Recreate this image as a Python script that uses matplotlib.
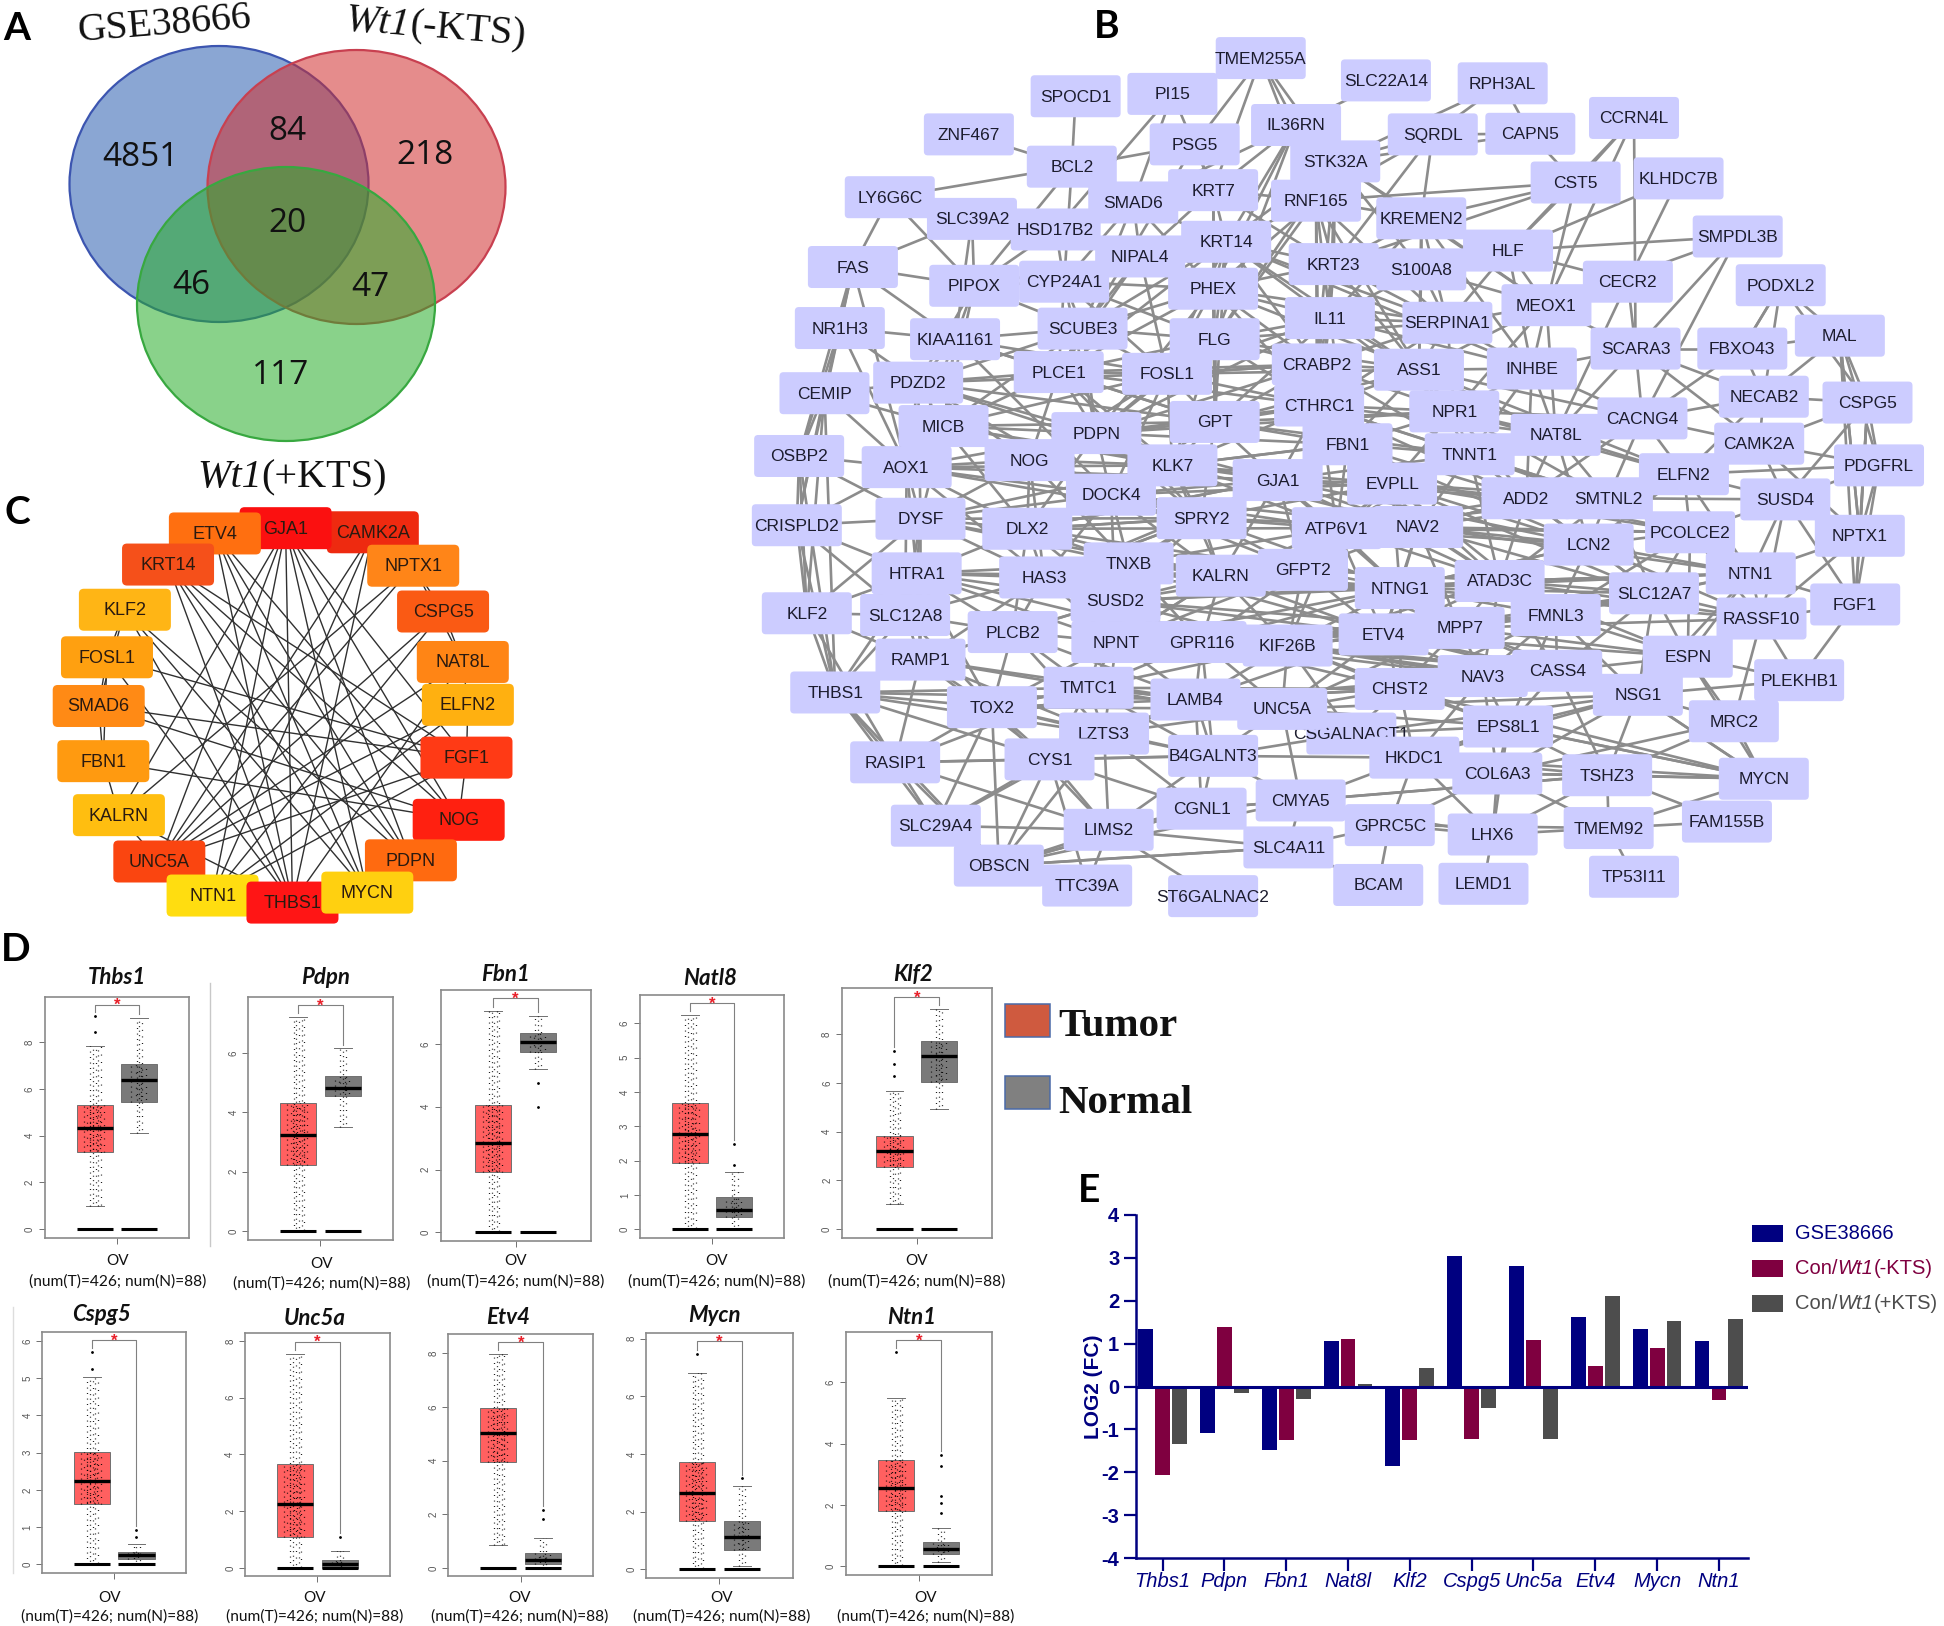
import math
import matplotlib
matplotlib.use("Agg")
import matplotlib.pyplot as plt
from matplotlib.patches import Ellipse, FancyBboxPatch, Rectangle
from matplotlib.transforms import blended_transform_factory

plt.rcParams['font.family'] = ['Liberation Sans', 'DejaVu Sans']

W, H = 1944, 1626

# ---------- Panel A ----------
venn_labels = ["4851", "84", "218", "20", "46", "47", "117"]

# ---------- Panel C ----------
c_names = ["CAMK2A", "GJA1", "ETV4", "KRT14", "NPTX1", "KLF2", "CSPG5", "FOSL1", "NAT8L", "ELFN2",
           "SMAD6", "FBN1", "FGF1", "NOG", "KALRN", "UNC5A", "PDPN", "NTN1", "THBS1", "MYCN"]
c_colors = ["#ee2a10", "#fb1010", "#ff6f10", "#f5501a", "#ff8518", "#ffb515", "#fa5a14", "#ffa010", "#ff8515", "#ffb010",
            "#ff8a15", "#ff9a10", "#ff3a15", "#ff2010", "#ffbe10", "#fa4510", "#ff6a10", "#ffdd10", "#ff1515", "#ffd010"]
c_x = [812, 622, 468, 366, 900, 272, 965, 233, 1008, 1019, 215, 225, 1016, 999, 259, 347, 895, 463, 637, 800]
c_y = [907, 900, 909, 962, 964, 1039, 1042, 1120, 1128, 1201, 1203, 1297, 1291, 1397, 1389, 1468, 1466, 1526, 1538, 1521]
c_edges = [
    "GJA1 THBS1 MYCN PDPN NTN1 UNC5A KALRN NOG FGF1",
    "CAMK2A UNC5A NTN1 THBS1",
    "ETV4 THBS1 MYCN NOG PDPN",
    "KRT14 THBS1 MYCN NOG FGF1 PDPN",
    "NPTX1 UNC5A KALRN CSPG5 NAT8L",
    "CSPG5 UNC5A NTN1 NAT8L",
    "NAT8L UNC5A THBS1 ELFN2",
    "KLF2 MYCN THBS1 FOSL1 SMAD6 PDPN",
    "FOSL1 FGF1 SMAD6 FBN1 THBS1",
    "SMAD6 FGF1 NOG FBN1",
    "FBN1 NOG KALRN",
    "KALRN UNC5A THBS1",
    "ELFN2 FGF1 UNC5A NTN1",
    "FGF1 NOG NTN1 UNC5A",
]

# ---------- Panel B ----------
b_names = ["CSGALNACT1", "TMEM255A", "SLC22A14", "RPH3AL", "SPOCD1", "PI15", "IL36RN", "SQRDL", "CAPN5", "CCRN4L",
           "ZNF467", "PSG5", "STK32A", "BCL2", "KLHDC7B", "CST5", "LY6G6C", "KRT7", "SMAD6", "RNF165",
           "SLC39A2", "KREMEN2", "HSD17B2", "SMPDL3B", "KRT14", "NIPAL4", "HLF", "FAS", "KRT23", "S100A8",
           "CECR2", "PIPOX", "CYP24A1", "PHEX", "PODXL2", "MEOX1", "IL11", "SERPINA1", "SCUBE3", "NR1H3",
           "KIAA1161", "FLG", "MAL", "SCARA3", "FBXO43", "CRABP2", "ASS1", "INHBE", "PLCE1", "FOSL1",
           "PDZD2", "CEMIP", "NECAB2", "CSPG5", "CTHRC1", "NPR1", "CACNG4", "GPT", "MICB", "PDPN",
           "NAT8L", "CAMK2A", "FBN1", "TNNT1", "NOG", "OSBP2", "AOX1", "KLK7", "PDGFRL", "ELFN2",
           "GJA1", "EVPLL", "DOCK4", "ADD2", "SMTNL2", "SUSD4", "SPRY2", "DYSF", "CRISPLD2", "DLX2",
           "ATP6V1", "NAV2", "NPTX1", "PCOLCE2", "LCN2", "TNXB", "HAS3", "HTRA1", "KALRN", "GFPT2",
           "NTNG1", "ATAD3C", "NTN1", "FGF1", "SLC12A7", "SUSD2", "KLF2", "SLC12A8", "FMNL3", "RASSF10",
           "PLCB2", "MPP7", "ETV4", "NPNT", "GPR116", "KIF26B", "RAMP1", "ESPN", "NAV3", "CASS4",
           "THBS1", "TMTC1", "CHST2", "PLEKHB1", "NSG1", "LAMB4", "TOX2", "UNC5A", "MRC2", "LZTS3",
           "EPS8L1", "B4GALNT3", "RASIP1", "CYS1", "HKDC1", "COL6A3", "TSHZ3", "MYCN", "CGNL1", "CMYA5",
           "GPRC5C", "LHX6", "TMEM92", "FAM155B", "SLC29A4", "LIMS2", "SLC4A11", "OBSCN", "TTC39A", "BCAM",
           "LEMD1", "TP53I11", "ST6GALNAC2"]
b_x = [796, 678, 841, 993, 437, 563, 724, 902, 1029, 1164,
       298, 592, 775, 432, 1222, 1088, 195, 616, 512, 750,
       302, 887, 411, 1299, 633, 521, 1000, 147, 773, 887,
       1156, 305, 422, 616, 1355, 1050, 768, 921, 446, 130,
       280, 618, 1432, 1166, 1305, 751, 884, 1031, 415, 556,
       232, 110, 1333, 1468, 754, 930, 1175, 618, 265, 464,
       1062, 1327, 791, 950, 377, 77, 217, 563, 1483, 1229,
       700, 849, 483, 1024, 1130, 1361, 601, 235, 74, 374,
       777, 883, 1458, 1237, 1105, 506, 396, 230, 626, 733,
       859, 989, 1316, 1452, 1190, 489, 87, 215, 1062, 1330,
       355, 937, 838, 490, 601, 713, 235, 1234, 967, 1064,
       124, 454, 859, 1379, 1169, 593, 328, 706, 1294, 474,
       1000, 616, 202, 403, 878, 986, 1129, 1333, 601, 730,
       846, 980, 1131, 1285, 255, 480, 714, 337, 452, 831,
       968, 1164, 616]
b_y = [1250, 99, 137, 142, 164, 160, 213, 229, 228, 201,
       229, 246, 275, 284, 304, 311, 336, 324, 345, 342,
       373, 372, 391, 403, 412, 437, 427, 455, 450, 459,
       480, 487, 480, 492, 486, 520, 542, 550, 560, 559,
       578, 578, 572, 594, 594, 621, 630, 628, 634, 637,
       652, 670, 676, 686, 691, 701, 713, 719, 726, 738,
       741, 756, 757, 774, 784, 777, 796, 793, 793, 808,
       818, 824, 843, 849, 849, 851, 883, 884, 895, 901,
       900, 898, 913, 907, 928, 960, 984, 977, 981, 971,
       1002, 990, 977, 1030, 1011, 1024, 1045, 1048, 1048, 1054,
       1077, 1070, 1081, 1094, 1094, 1100, 1124, 1119, 1152, 1143,
       1180, 1172, 1174, 1159, 1184, 1192, 1205, 1208, 1229, 1250,
       1238, 1288, 1299, 1294, 1291, 1318, 1321, 1327, 1378, 1364,
       1406, 1422, 1411, 1400, 1407, 1414, 1444, 1475, 1509, 1508,
       1506, 1494, 1527]
b_edges = [
    "TMEM255A PSG5 IL36RN STK32A KRT7 RNF165", "SLC22A14 IL36RN", "RPH3AL SQRDL CAPN5 STK32A",
    "SPOCD1 BCL2", "PI15 KRT7 SMAD6 HSD17B2", "IL36RN KRT7 KRT14 RNF165 STK32A FLG SMAD6 PHEX",
    "SQRDL CAPN5 STK32A KREMEN2 RNF165 KRT23", "CAPN5 STK32A CST5", "CCRN4L HLF CST5 SCARA3 MEOX1",
    "ZNF467 BCL2", "PSG5 KRT7 BCL2 PLCE1", "STK32A KREMEN2 KRT23 KRT14 IL11 S100A8",
    "BCL2 LY6G6C SMAD6 CYP24A1 PIPOX", "KLHDC7B CECR2 HLF", "CST5 KREMEN2 RNF165 KRT23 MEOX1 HLF",
    "LY6G6C FAS PIPOX", "KRT7 KRT14 NIPAL4 RNF165 PHEX FLG KRT23", "SMAD6 CYP24A1 NIPAL4 KRT14 SCUBE3 PHEX",
    "RNF165 KRT14 KRT23 KREMEN2 IL11 PHEX SERPINA1 FLG", "SLC39A2 FAS PIPOX HSD17B2 MICB",
    "KREMEN2 KRT23 HLF S100A8 SERPINA1 IL11", "HSD17B2 CYP24A1 NIPAL4 PIPOX", "SMPDL3B HLF MEOX1 SCARA3 CACNG4",
    "KRT14 NIPAL4 PHEX FLG KRT23 IL11 GPT CRABP2", "NIPAL4 CYP24A1 PHEX SCUBE3 PIPOX FOSL1 PLCE1",
    "HLF S100A8 MEOX1 CECR2 SERPINA1 INHBE", "FAS PIPOX NR1H3 CEMIP KIAA1161 AOX1 OSBP2",
    "KRT23 IL11 S100A8 SERPINA1 CRABP2 CTHRC1 ASS1", "S100A8 SERPINA1 MEOX1 ASS1 IL11", "CECR2 MEOX1 SCARA3 NAT8L",
    "PIPOX CYP24A1 SCUBE3 KIAA1161 PDZD2 MICB", "CYP24A1 PHEX SCUBE3 PLCE1 FLG FOSL1 PDPN",
    "PHEX FLG SCUBE3 FOSL1 IL11 GPT CRABP2 PLCE1", "PODXL2 MAL FBXO43 CSPG5 NECAB2", "MEOX1 SERPINA1 INHBE SCARA3 ASS1 NPR1 NAT8L",
    "IL11 SERPINA1 CRABP2 FLG ASS1 GPT CTHRC1 FOSL1", "SERPINA1 ASS1 INHBE CRABP2 NPR1 CTHRC1",
    "SCUBE3 FLG PLCE1 FOSL1 KIAA1161 PDZD2 MICB PDPN", "NR1H3 CEMIP KIAA1161 AOX1 OSBP2 CRISPLD2 PDZD2",
    "KIAA1161 PDZD2 PLCE1 MICB AOX1", "FLG FOSL1 PLCE1 GPT CRABP2 PDPN", "MAL CSPG5 NECAB2 FBXO43 PDGFRL NPTX1",
    "SCARA3 FBXO43 INHBE CACNG4 NECAB2 NAT8L CAMK2A", "FBXO43 NECAB2 CACNG4", "CRABP2 CTHRC1 ASS1 GPT FBN1 NPR1 FOSL1 TNNT1",
    "ASS1 INHBE NPR1 CTHRC1 TNNT1 NAT8L FBN1", "INHBE NPR1 NAT8L CACNG4 ADD2 TNNT1", "PLCE1 FOSL1 PDZD2 MICB PDPN NOG GPT",
    "FOSL1 GPT PDPN KLK7 NOG CTHRC1 DOCK4", "PDZD2 CEMIP MICB AOX1 NOG PDPN DYSF", "CEMIP OSBP2 AOX1 CRISPLD2 MICB THBS1 KLF2",
    "NECAB2 CAMK2A CACNG4 CSPG5 ELFN2", "CSPG5 CAMK2A PDGFRL NPTX1 SUSD4 FGF1", "CTHRC1 GPT FBN1 NPR1 TNNT1 GJA1 KLK7 EVPLL",
    "NPR1 TNNT1 NAT8L FBN1 EVPLL ADD2", "CACNG4 NAT8L CAMK2A ELFN2 SMTNL2 ADD2", "GPT PDPN KLK7 FBN1 GJA1 DOCK4 SPRY2",
    "MICB AOX1 PDPN NOG DLX2 DYSF DOCK4", "PDPN NOG KLK7 DOCK4 GJA1 DLX2 SPRY2 FBN1", "NAT8L TNNT1 ADD2 ELFN2 EVPLL SMTNL2 LCN2",
    "CAMK2A ELFN2 PDGFRL SUSD4 SMTNL2 NPTX1", "FBN1 GJA1 EVPLL TNNT1 KLK7 SPRY2 NAV2 ATP6V1", "TNNT1 EVPLL ADD2 NAV2 GJA1 LCN2 SMTNL2",
    "NOG AOX1 DLX2 DOCK4 KLK7 DYSF SPRY2 TNXB HAS3", "OSBP2 CRISPLD2 AOX1 KLF2 DYSF THBS1", "AOX1 DYSF DLX2 HTRA1 CRISPLD2 HAS3 SLC12A8",
    "KLK7 DOCK4 GJA1 SPRY2 DLX2 KALRN", "PDGFRL SUSD4 NPTX1 ELFN2 FGF1", "ELFN2 SMTNL2 PCOLCE2 SUSD4 LCN2 ADD2 NTN1",
    "GJA1 EVPLL SPRY2 DOCK4 NAV2 ATP6V1 KALRN GFPT2 TNXB DLX2", "EVPLL NAV2 ATP6V1 ADD2 NTNG1 LCN2 ATAD3C GFPT2",
    "DOCK4 SPRY2 DLX2 TNXB HAS3 SUSD2 KALRN", "ADD2 SMTNL2 LCN2 NAV2 ATAD3C PCOLCE2 SLC12A7", "SMTNL2 PCOLCE2 LCN2 SUSD4 SLC12A7 NTN1 ATAD3C",
    "SUSD4 NPTX1 NTN1 FGF1 PCOLCE2 RASSF10", "SPRY2 DLX2 KALRN ATP6V1 GFPT2 TNXB SUSD2 HAS3", "DYSF CRISPLD2 HTRA1 DLX2 HAS3 SLC12A8 KLF2 RAMP1",
    "CRISPLD2 HTRA1 KLF2 THBS1 SLC12A8", "DLX2 HAS3 HTRA1 TNXB SUSD2 PLCB2", "ATP6V1 NAV2 GFPT2 NTNG1 KALRN KIF26B ETV4",
    "NAV2 NTNG1 ATAD3C LCN2 GFPT2 MPP7 ETV4 FMNL3", "NPTX1 NTN1 FGF1 RASSF10", "PCOLCE2 LCN2 NTN1 SLC12A7 RASSF10 FMNL3 ESPN",
    "LCN2 ATAD3C SLC12A7 NTN1 FMNL3 NTNG1 RASSF10", "TNXB HAS3 SUSD2 KALRN NPNT GFPT2 GPR116", "HAS3 HTRA1 SUSD2 PLCB2 SLC12A8 NPNT RAMP1",
    "HTRA1 SLC12A8 KLF2 PLCB2 RAMP1 THBS1 TOX2", "KALRN GFPT2 SUSD2 GPR116 KIF26B NTNG1 NPNT ETV4", "GFPT2 NTNG1 KIF26B ETV4 GPR116 ATAD3C MPP7",
    "NTNG1 ATAD3C ETV4 MPP7 FMNL3 KIF26B CHST2", "ATAD3C FMNL3 SLC12A7 MPP7 NTN1 NAV3 CASS4", "NTN1 FGF1 RASSF10 SLC12A7 ESPN FMNL3 NSG1",
    "FGF1 RASSF10 PLEKHB1", "SLC12A7 FMNL3 RASSF10 ESPN NSG1 CASS4", "SUSD2 NPNT PLCB2 GPR116 RAMP1 TMTC1 KIF26B",
    "KLF2 SLC12A8 THBS1 RAMP1 RASIP1", "SLC12A8 PLCB2 RAMP1 THBS1 TOX2", "FMNL3 MPP7 CASS4 ESPN NSG1 NAV3 ETV4 CHST2 EPS8L1",
    "RASSF10 ESPN PLEKHB1 NSG1 MRC2", "PLCB2 RAMP1 NPNT TMTC1 TOX2 LAMB4 LZTS3", "MPP7 ETV4 NAV3 CASS4 CHST2 KIF26B UNC5A",
    "ETV4 KIF26B CHST2 NAV3 UNC5A GPR116 LAMB4", "NPNT GPR116 TMTC1 LAMB4 KIF26B LZTS3 TOX2", "GPR116 KIF26B LAMB4 TMTC1 UNC5A B4GALNT3",
    "KIF26B UNC5A CHST2 LAMB4 CSGALNACT1", "RAMP1 THBS1 TOX2 TMTC1 RASIP1 CYS1 LZTS3", "ESPN NSG1 PLEKHB1 CASS4 MRC2 MYCN",
    "NAV3 CASS4 CHST2 EPS8L1 NSG1 HKDC1 COL6A3", "CASS4 NSG1 EPS8L1 TSHZ3", "THBS1 TOX2 RASIP1 CYS1 SLC29A4 OBSCN",
    "TMTC1 TOX2 LZTS3 LAMB4 B4GALNT3 CYS1", "CHST2 UNC5A CSGALNACT1 EPS8L1 HKDC1 LAMB4", "PLEKHB1 NSG1 MRC2",
    "NSG1 MRC2 TSHZ3 EPS8L1 MYCN COL6A3 HKDC1", "LAMB4 UNC5A LZTS3 B4GALNT3 CGNL1 CYS1", "TOX2 LZTS3 CYS1 RASIP1 OBSCN SLC29A4 LIMS2",
    "UNC5A CSGALNACT1 B4GALNT3 HKDC1 LZTS3 CMYA5", "MRC2 MYCN TSHZ3 COL6A3", "LZTS3 CYS1 B4GALNT3 LIMS2 CGNL1 OBSCN",
    "EPS8L1 HKDC1 COL6A3 TSHZ3 LHX6 MYCN", "B4GALNT3 CGNL1 CYS1 CMYA5 LIMS2 HKDC1", "RASIP1 CYS1 SLC29A4 OBSCN LIMS2",
    "CYS1 LIMS2 OBSCN CGNL1 SLC29A4 TTC39A", "HKDC1 COL6A3 GPRC5C CMYA5 LHX6 TSHZ3", "COL6A3 TSHZ3 LHX6 GPRC5C TMEM92 MYCN",
    "TSHZ3 MYCN TMEM92 LHX6 FAM155B", "CGNL1 CMYA5 LIMS2 SLC4A11 OBSCN", "CMYA5 GPRC5C SLC4A11 LHX6", "GPRC5C LHX6 SLC4A11 BCAM TMEM92",
    "LHX6 LEMD1 TMEM92", "TMEM92 FAM155B TP53I11 MYCN", "SLC29A4 OBSCN LIMS2", "LIMS2 OBSCN TTC39A SLC4A11 ST6GALNAC2", "SLC4A11 BCAM OBSCN",
    "OBSCN TTC39A",
    "FOSL1 CRABP2 ASS1", "PDPN CRABP2 CTHRC1 NPR1", "GPT NPR1 ASS1 TNNT1", "PLCE1 CTHRC1 CRABP2 KLK7 SPRY2",
    "PDZD2 GPT FOSL1 KLK7 DOCK4", "MICB GPT KLK7 SPRY2 GJA1 FOSL1", "KIAA1161 GPT FOSL1 DOCK4",
    "AOX1 KLK7 DOCK4 SPRY2 GJA1 PDPN", "DYSF SPRY2 DOCK4 KLK7 TNXB KALRN", "DLX2 SPRY2 GJA1 KALRN GFPT2 ATP6V1",
    "HAS3 KALRN GFPT2 SPRY2 NTNG1 GJA1", "HTRA1 KALRN TNXB SUSD2 NPNT GPR116", "SUSD2 GFPT2 NTNG1 ATAD3C ETV4 MPP7",
    "TNXB NTNG1 ATP6V1 ETV4", "NPNT KALRN GFPT2 ETV4 MPP7 NTNG1 FMNL3", "GPR116 NTNG1 ETV4 MPP7 FMNL3 NAV3 CASS4 CHST2",
    "KIF26B MPP7 NAV3 CASS4 FMNL3 NSG1 EPS8L1 ATAD3C", "ETV4 FMNL3 CASS4 ATAD3C SLC12A7 NSG1 ESPN", "MPP7 SLC12A7 ESPN NSG1 RASSF10",
    "NTNG1 SLC12A7 LCN2 NTN1 RASSF10", "ATAD3C NTN1 RASSF10 ESPN", "NAV2 PCOLCE2 SLC12A7 NTN1 ADD2 SMTNL2",
    "ATP6V1 LCN2 ATAD3C ADD2 PCOLCE2 SMTNL2 EVPLL", "EVPLL PCOLCE2 SMTNL2 SLC12A7 FMNL3", "GJA1 NTNG1 ATAD3C LCN2 ADD2",
    "SPRY2 NAV2 EVPLL NTNG1", "DOCK4 ATP6V1 NAV2 GFPT2 EVPLL", "KLK7 FBN1 EVPLL ATP6V1 NAV2", "FBN1 ADD2 LCN2",
    "TNNT1 ATP6V1 ATAD3C PCOLCE2", "CTHRC1 ADD2 SMTNL2 NAT8L ATP6V1", "NPR1 CACNG4 SMTNL2 ELFN2", "ASS1 CACNG4 ELFN2 ADD2",
    "KRT14 FOSL1 PLCE1 SCUBE3 SERPINA1 ASS1 INHBE", "IL11 INHBE NPR1 FBN1 PDPN", "PHEX CTHRC1 KRT23 SERPINA1 ASS1 PDPN",
    "FLG CTHRC1 SERPINA1 ASS1 KLK7", "RNF165 ASS1 CRABP2 CTHRC1", "STK32A CRABP2 MEOX1 FLG", "KREMEN2 MEOX1 INHBE ASS1",
    "UNC5A EPS8L1 COL6A3 NSG1", "CSGALNACT1 HKDC1 EPS8L1 COL6A3 NSG1 B4GALNT3", "TMTC1 UNC5A CHST2 CSGALNACT1 KIF26B",
    "LAMB4 CSGALNACT1 CHST2 HKDC1 NAV3", "TOX2 TMTC1 LAMB4 B4GALNT3 UNC5A", "RAMP1 LAMB4", "THBS1 TMTC1 LAMB4 LZTS3",
    "RASIP1 B4GALNT3 TMTC1", "OBSCN CGNL1 SLC4A11 CMYA5", "SLC29A4 LZTS3", "MYCN HKDC1 NSG1 EPS8L1 CHST2", "TSHZ3 CGNL1 CMYA5",
    "NPTX1 CSPG5", "FBXO43 PODXL2", "MAL NPTX1 FGF1",
]

# ---------- Panel D ----------
d_genes = ["Thbs1", "Pdpn", "Fbn1", "Natl8", "Klf2", "Cspg5", "Unc5a", "Etv4", "Mycn", "Ntn1"]
d_ticks = [[0, 2, 4, 6, 8], [0, 2, 4, 6], [0, 2, 4, 6], [0, 1, 2, 3, 4, 5, 6], [0, 2, 4, 6, 8],
           [0, 1, 2, 3, 4, 5, 6], [0, 2, 4, 6, 8], [0, 2, 4, 6, 8], [0, 2, 4, 6, 8], [0, 2, 4, 6]]
tumor_wlo = [1.0, 0, 0, 0, 1.04, 0, 0, 0.86, 0, 0]
tumor_q1 = [3.32, 2.23, 1.93, 1.93, 2.56, 1.62, 1.10, 3.93, 1.66, 1.79]
tumor_med = [4.31, 3.23, 2.84, 2.77, 3.20, 2.25, 2.27, 5.03, 2.66, 2.56]
tumor_q3 = [5.31, 4.32, 4.07, 3.67, 3.80, 3.01, 3.68, 5.97, 3.73, 3.46]
tumor_whi = [7.86, 7.21, 7.06, 6.25, 5.65, 5.04, 7.54, 7.97, 6.80, 5.50]
tumor_out = [[8.46, 9.14], [], [], [], [6.3, 6.78, 7.33], [5.24, 5.7], [], [], [7.48], [7.0]]
normal_wlo = [4.10, 3.52, 5.19, 0, 4.93, 0, 0, 0, 0.11, 0.13]
normal_q1 = [5.45, 4.55, 5.73, 0.35, 6.04, 0.15, 0.0, 0.15, 0.67, 0.38]
normal_med = [6.41, 4.80, 6.05, 0.55, 7.11, 0.24, 0.13, 0.29, 1.11, 0.57]
normal_q3 = [7.07, 5.23, 6.36, 0.93, 7.74, 0.33, 0.29, 0.57, 1.66, 0.78]
normal_whi = [9.06, 6.15, 6.89, 1.66, 9.04, 0.54, 0.59, 1.11, 2.90, 1.26]
normal_out = [[], [], [4.0, 4.76], [1.86, 2.49], [], [0.74, 0.92], [1.1], [1.83, 2.16], [3.16], [1.72, 2.06, 2.3, 3.26, 3.63]]

# ---------- Panel E ----------
e_genes = ["Thbs1", "Pdpn", "Fbn1", "Nat8l", "Klf2", "Cspg5", "Unc5a", "Etv4", "Mycn", "Ntn1"]
e_gse = [1.33, -1.09, -1.49, 1.07, -1.86, 3.04, 2.82, 1.62, 1.33, 1.05]
e_minus = [-2.07, 1.39, -1.25, 1.10, -1.25, -1.23, 1.09, 0.47, 0.89, -0.32]
e_plus = [-1.35, -0.15, -0.30, 0.05, 0.42, -0.51, -1.23, 2.12, 1.52, 1.57]

# ================= layout =================
fig = plt.figure(figsize=(W / 100, H / 100), dpi=100, facecolor='white')
ov = fig.add_axes([0, 0, 1, 1], zorder=0)
ov.set_xlim(0, W)
ov.set_ylim(H, 0)
ov.axis('off')
renderer = fig.canvas.get_renderer()


def pxaxes(x0, y0, x1, y1, **kw):
    return fig.add_axes([x0 / W, 1 - y1 / H, (x1 - x0) / W, (y1 - y0) / H], **kw)


def mixed_text(x, y, parts, rotation=0, anchor='center', **kw):
    """Write (string, fontstyle) pieces one after the other along a rotated baseline."""
    widths = []
    for s, st in parts:
        t = ov.text(0, 0, s.replace(" ", "."), style=st, **kw)
        widths.append(t.get_window_extent(renderer).width)
        t.remove()
    total = sum(widths)
    r = math.radians(rotation)
    d = -total / 2 if anchor == 'center' else 0
    for (s, st), w in zip(parts, widths):
        ov.text(x + d * math.cos(r), y - d * math.sin(r), s, style=st, rotation=rotation,
                rotation_mode='anchor', ha='left', va='baseline', **kw)
        d += w


SERIF = 'Liberation Serif'
CAL = 'Lato'

# panel letters
for t, x, y in [("A", 17, 28), ("B", 1107, 26), ("C", 17, 512), ("D", 16, 949), ("E", 1089, 1190)]:
    ov.text(x, y, t, fontsize=28, fontweight='bold', family=CAL, ha='center', va='center', color='black')

# --- A ---
venn_ell = [((219, 184), 299, 276, (.165, .37, .69), '#3c55b0'),
            ((356.5, 187), 298, 274, (.815, .18, .18), '#c84050'),
            ((286, 304), 298, 274, (.158, .68, .165), '#38a840')]
for c, w, h, col, ec in venn_ell:
    ov.add_patch(Ellipse(c, w, h, fc=col + (0.55,), ec=ec, lw=1.6, zorder=2))
for t, x, y in zip(venn_labels, [140, 287, 425, 287, 191, 370, 281], [158, 132, 155, 223, 286, 288, 375]):
    ov.text(x, y, t, fontsize=24, family='Open Sans', ha='center', va='center', color='#111111', zorder=3)
ov.text(164, 25, "GSE38666", fontsize=28.5, family=SERIF, rotation=4.5, ha='center', va='center', color='#111111')
mixed_text(435, 38, [("Wt1", 'italic'), ("(-KTS)", 'normal')], rotation=-5, fontsize=29, family=SERIF, color='#111111')
mixed_text(292, 487, [("Wt1", 'italic'), ("(+KTS)", 'normal')], fontsize=29, family=SERIF, color='#111111')

# --- C ---
cpos = {n: (x / 2.178, y / 1.704) for n, x, y in zip(c_names, c_x, c_y)}
for line in c_edges:
    parts = line.split()
    for other in parts[1:]:
        a, b = cpos[parts[0]], cpos[other]
        ov.plot([a[0], b[0]], [a[1], b[1]], color='#303030', lw=1.0, zorder=2)
for n, col in zip(c_names, c_colors):
    x, y = cpos[n]
    ov.add_patch(FancyBboxPatch((x - 46, y - 21), 92, 42, boxstyle='round,pad=0,rounding_size=5',
                                fc=col, ec='none', zorder=3))
    ov.text(x, y + 1, n, fontsize=13, ha='center', va='center', color='#2a1a10', zorder=3)

# --- B ---
bpos = {n: (740 + x / 1.302, y / 1.704) for n, x, y in zip(b_names, b_x, b_y)}
for line in b_edges:
    parts = line.split()
    for other in parts[1:]:
        a, b = bpos[parts[0]], bpos[other]
        ov.plot([a[0], b[0]], [a[1], b[1]], color='#8c8c8c', lw=1.9, zorder=2)
for n in b_names:
    x, y = bpos[n]
    ov.add_patch(FancyBboxPatch((x - 45, y - 21), 90, 42, boxstyle='round,pad=0,rounding_size=4',
                                fc='#ccccff', ec='none', zorder=3))
    ov.text(x, y + 1, n, fontsize=12.5, ha='center', va='center', color='#1c1c2e', zorder=3)

# --- D ---
ZX, ZY = 1.568, 2.221
frames = [(70, 297, 170, 707), (389, 616, 170, 711), (691, 926, 155, 714), (1003, 1230, 166, 707), (1320, 1555, 152, 707),
          (66, 292, 915, 1451), (384, 611, 918, 1458), (703, 930, 920, 1458), (1013, 1243, 917, 1461), (1326, 1555, 915, 1455)]
zero_z = [686, 691, 694, 687, 686, 1431, 1439, 1439, 1442, 1435]
unit_z = [51.75, 66, 69.8, 76.3, 54, 82.7, 63, 59.6, 64, 68]
title_xy = [(184, 128), (510, 128), (793, 122), (1113, 130), (1432, 122), (159, 876), (494, 886), (797, 882), (1120, 879), (1429, 883)]
ov_x = [184, 504, 809, 1123, 1437, 172, 493, 815, 1132, 1451]
ov_y = [758, 764, 758, 758, 758, 1505, 1505, 1505, 1505, 1505]
num_y = [802, 808, 802, 802, 802, 1547, 1547, 1547, 1547, 1547]
BOX_W = 0.81
STEP_Z = 70
DOT_T = [-0.1, -0.04, 0.02, 0.08, 0.13]
DOT_T_BOX = [-0.24, -0.17, -0.11, -0.03, 0.05, 0.12, 0.2]
DOT_N = [-0.06, 0.0, 0.07]
DOT_N_BOX = [-0.18, -0.08, 0.04, 0.15]
DASHES = [(0.7, 3.7), (0.7, 2.9), (0.7, 4.6), (0.7, 3.3), (0.7, 5.3), (0.7, 2.5), (0.7, 4.1)]


def draw_group(ax, pos, wlo, q1, med, q3, whi, out, col, tail, core):
    ax.add_patch(Rectangle((pos - BOX_W / 2, q1), BOX_W, q3 - q1, fc=col, ec='#707070', lw=0.7, zorder=2))
    for v in (wlo, whi):
        ax.plot([pos - 0.2, pos + 0.2], [v, v], color='#707070', lw=0.7, zorder=2)
    for k, dx in enumerate(tail):
        ax.plot([pos + dx, pos + dx], [wlo, whi], color='black', lw=0.9,
                ls=(k * 1.3, DASHES[k % len(DASHES)]), zorder=3)
    for k, dx in enumerate(core):
        ax.plot([pos + dx, pos + dx], [q1, q3], color='black', lw=0.9,
                ls=(k * 0.9, DASHES[(k + 3) % len(DASHES)]), zorder=3)
    ax.plot([pos - BOX_W / 2, pos + BOX_W / 2], [med, med], color='black', lw=2.4, zorder=4, solid_capstyle='butt')
    ax.plot([pos] * len(out), out, ls='none', marker='o', ms=1.0, color='black', zorder=3)
    ax.plot([pos - BOX_W / 2, pos + BOX_W / 2], [0, 0], color='black', lw=2.2, zorder=4, solid_capstyle='butt')


for i, gene in enumerate(d_genes):
    zx0, zx1, zy0, zy1 = frames[i]
    ax = pxaxes(zx0 / ZX, 920 + zy0 / ZY, zx1 / ZX, 920 + zy1 / ZY, zorder=2)
    u = unit_z[i]
    ax.set_ylim((zero_z[i] - zy1) / u, (zero_z[i] - zy0) / u)
    half = (zx1 - zx0) / 2 / STEP_Z
    ax.set_xlim(1.5 - half, 1.5 + half)
    draw_group(ax, 1, tumor_wlo[i], tumor_q1[i], tumor_med[i], tumor_q3[i], tumor_whi[i], tumor_out[i], '#ff6060', DOT_T, DOT_T_BOX)
    draw_group(ax, 2, normal_wlo[i], normal_q1[i], normal_med[i], normal_q3[i], normal_whi[i], normal_out[i], '#7a7a7a', DOT_N, DOT_N_BOX)
    # significance bracket
    tr = blended_transform_factory(ax.transData, ax.transAxes)
    gap = 8 / u
    ty = max([tumor_whi[i]] + tumor_out[i]) + gap
    ny = max([normal_whi[i]] + normal_out[i]) + gap
    br = ax.transLimits.transform((1, ty))[1]
    bn = ax.transLimits.transform((1, ny))[1]
    ax.plot([1, 1, 2, 2], [br, 0.966, 0.966, bn], transform=tr, color='#808080', lw=0.8, zorder=2)
    ax.text(1.5, 0.962, "*", transform=tr, color='#e8202a', fontsize=12, fontweight='bold', ha='center', va='center',
            zorder=5)
    ax.set_xticks([1.5])
    ax.set_xticklabels([""])
    ax.set_yticks(d_ticks[i])
    ax.set_yticklabels([str(t) for t in d_ticks[i]], rotation=90, va='center', fontsize=7, color='#555555')
    ax.tick_params(axis='both', length=4, width=0.7, color='#707070', pad=3)
    for s in ax.spines.values():
        s.set_color('#8a8a8a')
        s.set_linewidth(1.2)
    tx, ty2 = title_xy[i]
    ov.text(tx / ZX, 920 + ty2 / ZY, gene, fontsize=16, fontweight='bold', style='italic', family=CAL,
            ha='center', va='center', color='#111111')
    ov.text(ov_x[i] / ZX, 920 + ov_y[i] / ZY, "OV", fontsize=11, family=CAL, ha='center', va='center', color='#111111')
    ov.text(ov_x[i] / ZX, 920 + num_y[i] / ZY, "(num(T)=426; num(N)=88)", fontsize=11.2, family=CAL,
            ha='center', va='center', color='#111111')

ov.plot([330 / ZX] * 2, [920 + 140 / ZY, 920 + 725 / ZY], color='#c8c8c8', lw=1)
ov.plot([20 / ZX] * 2, [920 + 860 / ZY, 920 + 1450 / ZY], color='#dddddd', lw=1)

for y0, col, name, ty in [(1004, '#cf5a3f', "Tumor", 1026), (1076, '#808080', "Normal", 1103)]:
    ov.add_patch(Rectangle((1005, y0), 45, 33, fc=col, ec='#4a6aa8', lw=1.1))
    ov.text(1058, ty, name, fontsize=29.5, fontweight='bold', family=SERIF, ha='left', va='center', color='#111111')

# --- E ---
NAVY = '#000080'
MAROON = '#7f0040'
GREY = '#4d4d4d'
ax = pxaxes(1136, 1215, 1748, 1558, zorder=2)
ax.patch.set_alpha(0)
ax.set_ylim(-4, 4)
ax.set_xlim(-0.43, 9.47)
xs = list(range(len(e_genes)))
bw, off = 0.24, 0.274
ax.bar([x - off for x in xs], e_gse, bw, color=NAVY, zorder=2)
ax.bar(xs, e_minus, bw, color=MAROON, zorder=2)
ax.bar([x + off for x in xs], e_plus, bw, color=GREY, zorder=2)
ax.axhline(0, color=NAVY, lw=2.2, zorder=3)
ax.set_xticks(xs)
ax.set_xticklabels(e_genes, fontsize=14.5, style='italic', color=NAVY)
ax.set_yticks(range(-4, 5))
ax.set_yticklabels([str(v) for v in range(-4, 5)], fontsize=14.5, fontweight='bold', color=NAVY)
ax.tick_params(axis='both', length=9, width=1.6, color=NAVY, pad=3)
ax.tick_params(axis='x', pad=1)
ax.set_ylabel("LOG2 (FC)", fontsize=15, fontweight='bold', color=NAVY, labelpad=-1)
for s in ('top', 'right'):
    ax.spines[s].set_visible(False)
for s in ('left', 'bottom'):
    ax.spines[s].set_color(NAVY)
    ax.spines[s].set_linewidth(1.8)

for y0, col, parts in [(1225, NAVY, [("GSE38666", 'normal')]),
                       (1260, MAROON, [("Con/", 'normal'), ("Wt1", 'italic'), ("(-KTS)", 'normal')]),
                       (1295, GREY, [("Con/", 'normal'), ("Wt1", 'italic'), ("(+KTS)", 'normal')])]:
    ov.add_patch(Rectangle((1752, y0), 31, 17, fc=col, ec='none'))
    mixed_text(1795, y0 + 14, parts, anchor='left', fontsize=14.5, color=col)

fig.savefig("out.png", dpi=100, facecolor='white')
